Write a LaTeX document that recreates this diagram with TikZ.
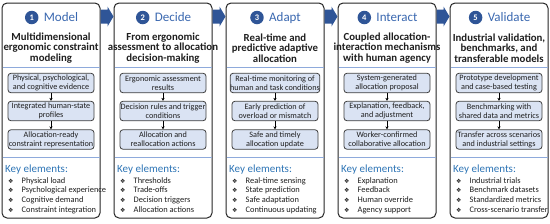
\documentclass[tikz,border=0pt]{standalone}
\usepackage{fontspec}
\setmainfont{Carlito}
\newfontfamily\symfont{DejaVu Sans}
\usetikzlibrary{positioning,calc,arrows.meta}
\definecolor{dblue}{HTML}{2F5597}
\definecolor{tblue}{HTML}{3A68B0}
\definecolor{kblue}{HTML}{2E75B6}
\definecolor{lineblue}{HTML}{8EAADB}
\definecolor{boxfill}{HTML}{DAE3F3}
\definecolor{framecol}{HTML}{262626}
\definecolor{boxline}{HTML}{404040}
\definecolor{txt}{HTML}{1F1F1F}
\begin{document}
\begin{tikzpicture}[x=1pt,y=-1pt,
 panel/.style={draw=framecol,line width=1pt,rounded corners=5pt,fill=white,minimum width=98pt,minimum height=215pt,inner sep=0pt},
 numcirc/.style={circle,fill=dblue,text=white,minimum size=13.5pt,inner sep=0pt,font=\fontsize{8.5}{8.5}\selectfont\bfseries},
 ttl/.style={text=tblue,font=\fontsize{13}{13}\selectfont,inner sep=0pt,text height=8.4pt,text depth=0pt},
 subt/.style={align=center,text=txt,font=\fontsize{10.8}{10.5}\selectfont\bfseries,inner sep=0pt},
 stepbox/.style={draw=boxline,line width=0.8pt,fill=boxfill,rounded corners=3pt,minimum width=86pt,minimum height=19.5pt,align=center,inner sep=0pt,font=\fontsize{8.2}{8.8}\selectfont,text=txt},
 flow/.style={-{Stealth[length=3pt,width=3.2pt]},line width=0.6pt,black},
 sepline/.style={draw=lineblue,line width=0.7pt},
 keyhd/.style={anchor=west,text=kblue,font=\fontsize{11}{11}\selectfont,inner sep=0pt},
 item/.style={anchor=west,font=\fontsize{8.4}{9}\selectfont,text=txt,inner sep=0pt,text height=6pt,text depth=1.8pt},
 bul/.style={font=\symfont\fontsize{6}{6}\selectfont,inner sep=0pt,text=txt},
 chev/.style={fill=dblue}
]
\useasboundingbox (0,0) rectangle (550,223);
\foreach \i/\vT/\vS/\vA/\vB/\vC/\kA/\kB/\kC/\kD in {
 1/Model/{Multidimensional\\ergonomic constraint\\modeling}/{Physical, psychological,\\and cognitive evidence}/{Integrated human-state\\profiles}/{Allocation-ready\\constraint representation}/{Physical load}/{Psychological experience}/{Cognitive demand}/{Constraint integration},
 2/Decide/{From ergonomic\\assessment to allocation\\decision-making}/{Ergonomic assessment\\results}/{Decision rules and trigger\\conditions}/{Allocation and\\reallocation actions}/{Thresholds}/{Trade-offs}/{Decision triggers}/{Allocation actions},
 3/Adapt/{Real-time and\\predictive adaptive\\allocation}/{Real-time monitoring of\\human and task conditions}/{Early prediction of\\overload or mismatch}/{Safe and timely\\allocation update}/{Real-time sensing}/{State prediction}/{Safe adaptation}/{Continuous updating},
 4/Interact/{Coupled allocation-\\interaction mechanisms\\with human agency}/{System-generated\\allocation proposal}/{Explanation, feedback,\\and adjustment}/{Worker-confirmed\\collaborative allocation}/{Explanation}/{Feedback}/{Human override}/{Agency support},
 5/Validate/{Industrial validation,\\benchmarks, and\\transferable models}/{Prototype development\\and case-based testing}/{Benchmarking with\\shared data and metrics}/{Transfer across scenarios\\and industrial settings}/{Industrial trials}/{Benchmark datasets}/{Standardized metrics}/{Cross-scenario transfer}
}{
 \pgfmathsetmacro\xo{2+112*(\i-1)}
 \node[panel] (p\i) at (\xo+49,110.5) {};
 \node[ttl] (t\i) at (\xo+59,17.5) {\vT};
 \node[numcirc,anchor=east] (n\i) at ([xshift=-5pt]t\i.west) {\i};
 \node[subt] (s\i) at (\xo+49,48) {\vS};
 \draw[sepline] (\xo+0.5,67) -- (\xo+97.5,67);
 \node[stepbox] (a\i) at (\xo+49,83) {\vA};
 \node[stepbox] (b\i) at (\xo+49,111) {\vB};
 \node[stepbox] (c\i) at (\xo+49,139.5) {\vC};
 \draw[flow] (a\i) -- (b\i);
 \draw[flow] (b\i) -- (c\i);
 \draw[sepline] (\xo+0.5,157) -- (\xo+97.5,157);
 \node[keyhd] (k\i) at (\xo+3,170) {Key elements:};
 \node[bul] (ua\i) at (\xo+8.7,181) {❖};
 \node[item] (ia\i) at (\xo+19.5,181) {\kA};
 \node[bul] (ub\i) at (\xo+8.7,190.7) {❖};
 \node[item] (ib\i) at (\xo+19.5,190.7) {\kB};
 \node[bul] (uc\i) at (\xo+8.7,200.3) {❖};
 \node[item] (ic\i) at (\xo+19.5,200.3) {\kC};
 \node[bul] (ud\i) at (\xo+8.7,210) {❖};
 \node[item] (id\i) at (\xo+19.5,210) {\kD};
}
\foreach \i in {1,2,3,4}{
 \fill[chev] ([yshift=-7pt]p\i.north east) -- ++(7,0) -- ++(0,-3) -- ++(6,10) -- ++(-6,10) -- ++(0,-3) -- ++(-7,0) -- cycle;
}
\end{tikzpicture}
\end{document}
